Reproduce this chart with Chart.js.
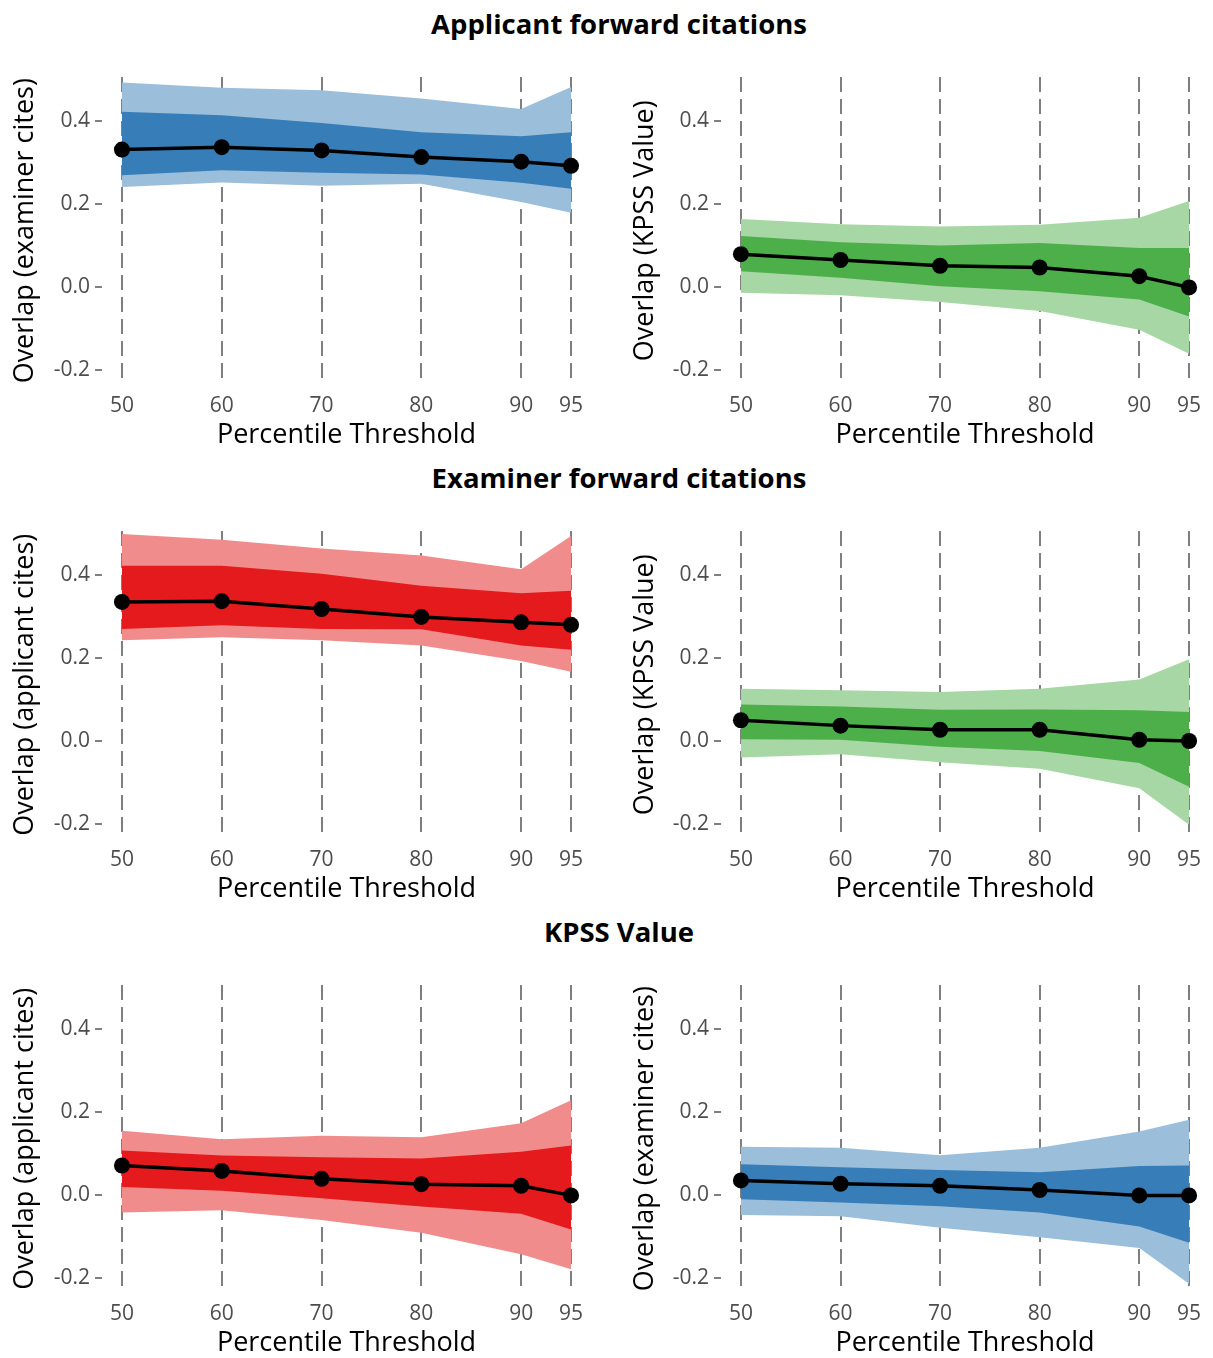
<!DOCTYPE html>
<html>
<head>
<meta charset="utf-8">
<script src="https://cdn.jsdelivr.net/npm/chart.js@4.4.1/dist/chart.umd.min.js"></script>
<style>
  body { margin: 0; background: #fff; font-family: 'Open Sans', sans-serif; }
  #page { position: relative; width: 1213px; height: 1358px; overflow: hidden; }
  .title { position: absolute; left: 0; width: 1238px; text-align: center;
           font: bold 27.5px 'Open Sans', sans-serif; line-height: 30px; color: #000; }
  canvas { position: absolute; }
</style>
</head>
<body>
<div id="page">
  <div class="title" style="top:9px">Applicant forward citations</div>
  <div class="title" style="top:463px">Examiner forward citations</div>
  <div class="title" style="top:917px">KPSS Value</div>

  <canvas id="p1" width="640" height="410" style="left:0;top:50px"></canvas>
  <canvas id="p2" width="640" height="410" style="left:606px;top:50px"></canvas>
  <canvas id="p3" width="640" height="410" style="left:0;top:504px"></canvas>
  <canvas id="p4" width="640" height="410" style="left:606px;top:504px"></canvas>
  <canvas id="p5" width="640" height="410" style="left:0;top:958px"></canvas>
  <canvas id="p6" width="640" height="410" style="left:606px;top:958px"></canvas>
</div>

<script>
// Seuils (axe x)
const thresholds = [50, 60, 70, 80, 90, 95];
const yTicks = [-0.2, 0.0, 0.2, 0.4];

// Applicant forward citations -> examiner cites
const appExamMean    = [0.331, 0.337, 0.329, 0.313, 0.302, 0.292];
const appExamLoIn    = [0.269, 0.281, 0.275, 0.271, 0.251, 0.237];
const appExamHiIn    = [0.422, 0.414, 0.395, 0.373, 0.363, 0.373];
const appExamLoOut   = [0.241, 0.252, 0.244, 0.249, 0.205, 0.179];
const appExamHiOut   = [0.493, 0.480, 0.474, 0.454, 0.429, 0.482];

// Applicant forward citations -> KPSS value
const appKpssMean    = [0.079, 0.065, 0.051, 0.047, 0.026, -0.001];
const appKpssLoIn    = [0.038, 0.022, 0.002, -0.010, -0.030, -0.071];
const appKpssHiIn    = [0.123, 0.108, 0.100, 0.106, 0.094, 0.094];
const appKpssLoOut   = [-0.014, -0.020, -0.036, -0.058, -0.103, -0.161];
const appKpssHiOut   = [0.164, 0.151, 0.146, 0.150, 0.167, 0.207];

// Examiner forward citations -> applicant cites
const examAppMean    = [0.335, 0.337, 0.318, 0.299, 0.286, 0.280];
const examAppLoIn    = [0.270, 0.279, 0.270, 0.269, 0.230, 0.220];
const examAppHiIn    = [0.422, 0.422, 0.403, 0.374, 0.356, 0.362];
const examAppLoOut   = [0.243, 0.250, 0.243, 0.230, 0.193, 0.167];
const examAppHiOut   = [0.499, 0.485, 0.464, 0.447, 0.414, 0.494];

// Examiner forward citations -> KPSS value
const examKpssMean   = [0.050, 0.037, 0.027, 0.027, 0.003, 0.000];
const examKpssLoIn   = [0.004, 0.003, -0.014, -0.024, -0.053, -0.110];
const examKpssHiIn   = [0.088, 0.083, 0.075, 0.076, 0.074, 0.070];
const examKpssLoOut  = [-0.040, -0.032, -0.051, -0.067, -0.114, -0.202];
const examKpssHiOut  = [0.126, 0.122, 0.118, 0.126, 0.148, 0.197];

// KPSS value -> applicant cites
const kpssAppMean    = [0.071, 0.058, 0.039, 0.026, 0.022, -0.001];
const kpssAppLoIn    = [0.019, 0.010, -0.008, -0.028, -0.045, -0.083];
const kpssAppHiIn    = [0.107, 0.095, 0.091, 0.088, 0.104, 0.119];
const kpssAppLoOut   = [-0.042, -0.037, -0.060, -0.091, -0.143, -0.179];
const kpssAppHiOut   = [0.155, 0.134, 0.143, 0.139, 0.173, 0.228];

// KPSS value -> examiner cites
const kpssExamMean   = [0.035, 0.027, 0.022, 0.012, -0.001, -0.001];
const kpssExamLoIn   = [-0.010, -0.018, -0.027, -0.042, -0.076, -0.115];
const kpssExamHiIn   = [0.074, 0.067, 0.060, 0.055, 0.070, 0.071];
const kpssExamLoOut  = [-0.048, -0.051, -0.079, -0.102, -0.128, -0.214];
const kpssExamHiOut  = [0.116, 0.114, 0.096, 0.114, 0.153, 0.181];

const bleu  = { fonce: '#377EB8', clair: '#9BBEDB' };
const vert  = { fonce: '#4DAF4A', clair: '#A6D7A4' };
const rouge = { fonce: '#E41A1C', clair: '#F18C8D' };

const police = "'Open Sans'";
const pts = arr => arr.map((v, i) => ({ x: thresholds[i], y: v }));

function bande(data, fill, couleur, ordre) {
    return {
        data: pts(data),
        borderColor: 'rgba(0,0,0,0)',
        borderWidth: 0,
        pointRadius: 0,
        backgroundColor: couleur || 'rgba(0,0,0,0)',
        fill: fill,
        order: ordre
    };
}

// Dessine un panneau
function panneau(id, titreY, couleurs, mean, loIn, hiIn, loOut, hiOut, droite) {
    const ctx = document.getElementById(id).getContext('2d');
    new Chart(ctx, {
        type: 'line',
        data: {
            datasets: [
                bande(loOut, false, null, 5),
                bande(hiOut, 0, couleurs.clair, 4),
                bande(loIn, false, null, 3),
                bande(hiIn, 2, couleurs.fonce, 2),
                {
                    data: pts(mean),
                    borderColor: '#000',
                    borderWidth: 3.5,
                    pointRadius: 8,
                    pointBackgroundColor: '#000',
                    pointBorderWidth: 0,
                    fill: false,
                    order: 1
                }
            ]
        },
        options: {
            responsive: false,
            devicePixelRatio: 1,
            animation: false,
            // zone de tracé : gauche 102..591, droite 721..1209
            layout: { padding: { top: 27, right: droite ? 37 : 49, bottom: 0, left: 0 } },
            plugins: { legend: { display: false }, tooltip: { enabled: false } },
            scales: {
                x: {
                    type: 'linear',
                    min: 48,
                    max: 97,
                    afterBuildTicks: s => { s.ticks = thresholds.map(v => ({ value: v })); },
                    afterFit: s => { s.height = 75.5; },
                    border: { display: false, dash: [15, 7] },
                    grid: {
                        color: '#7F7F7F',
                        lineWidth: 2,
                        drawTicks: false
                    },
                    ticks: {
                        color: '#4D4D4D',
                        font: { family: police, size: 21 },
                        padding: 9,
                        maxRotation: 0,
                        autoSkip: false
                    },
                    title: {
                        display: true,
                        text: 'Percentile Threshold',
                        color: '#000',
                        font: { family: police, size: 27 },
                        padding: { top: 0, bottom: 8 }
                    }
                },
                y: {
                    min: -0.235,
                    max: 0.506,
                    afterBuildTicks: s => { s.ticks = yTicks.map(v => ({ value: v })); },
                    afterFit: s => { s.width = droite ? 115 : 102; },
                    border: { display: false },
                    grid: {
                        drawOnChartArea: false,
                        drawTicks: true,
                        tickLength: 7,
                        tickColor: '#7F7F7F',
                        lineWidth: 2
                    },
                    ticks: {
                        color: '#4D4D4D',
                        font: { family: police, size: 21 },
                        padding: 5,
                        callback: v => v.toFixed(1)
                    },
                    title: {
                        display: true,
                        text: titreY,
                        color: '#000',
                        font: { family: police, size: 27 },
                        padding: { top: droite ? 23 : 9, bottom: 0 }
                    }
                }
            }
        }
    });
}

panneau('p1', 'Overlap (examiner cites)', bleu, appExamMean, appExamLoIn, appExamHiIn, appExamLoOut, appExamHiOut, false);
panneau('p2', 'Overlap (KPSS Value)', vert, appKpssMean, appKpssLoIn, appKpssHiIn, appKpssLoOut, appKpssHiOut, true);
panneau('p3', 'Overlap (applicant cites)', rouge, examAppMean, examAppLoIn, examAppHiIn, examAppLoOut, examAppHiOut, false);
panneau('p4', 'Overlap (KPSS Value)', vert, examKpssMean, examKpssLoIn, examKpssHiIn, examKpssLoOut, examKpssHiOut, true);
panneau('p5', 'Overlap (applicant cites)', rouge, kpssAppMean, kpssAppLoIn, kpssAppHiIn, kpssAppLoOut, kpssAppHiOut, false);
panneau('p6', 'Overlap (examiner cites)', bleu, kpssExamMean, kpssExamLoIn, kpssExamHiIn, kpssExamLoOut, kpssExamHiOut, true);
</script>
</body>
</html>
